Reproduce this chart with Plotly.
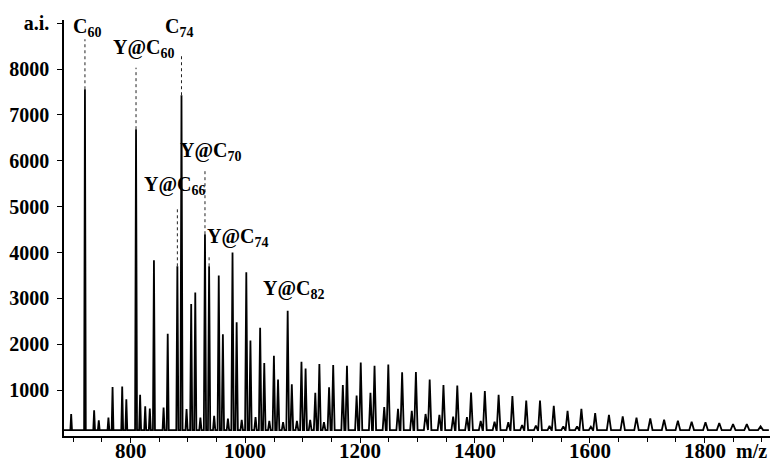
import plotly.graph_objects as go

# ---- data (m/z, intensity in a.i.) ----
peak_mz = [696.6, 720.6, 736.6, 744.7, 761.5, 768.7, 785.5, 792.7, 809.6, 816.7,
           825.6, 833.6, 840.8, 857.6, 864.8, 881.6, 888.8, 897.6, 905.7, 912.8,
           921.7, 929.7, 936.9, 945.7, 953.7, 960.9, 969.7, 977.7, 984.9, 993.7,
           1001.7, 1008.9, 1017.8, 1025.8, 1033.0, 1041.8, 1049.8, 1057.0, 1065.8, 1073.8,
           1081.0, 1089.9, 1097.8, 1105.0, 1113.0, 1121.9, 1129.0, 1137.0, 1145.9, 1153.1,
           1169.9, 1177.1, 1193.9, 1201.1, 1218.0, 1225.1, 1242.0, 1249.1, 1266.0, 1273.2,
           1290.0, 1297.2, 1314.0, 1321.2, 1338.1, 1345.2, 1362.1, 1369.3, 1386.1, 1393.3,
           1410.1, 1417.3, 1434.2, 1441.3, 1458.2, 1465.3, 1482.2, 1489.4, 1506.2, 1513.4,
           1530.0, 1537.4, 1554.0, 1561.4, 1578.0, 1585.5, 1602.0, 1609.5, 1633.5, 1657.5,
           1681.5, 1705.5, 1729.6, 1753.6, 1777.6, 1801.7, 1825.7, 1849.7, 1873.7, 1897.7]
peak_int = [480, 7560, 560, 340, 400, 1070, 1080, 800, 6690, 900,
            650, 600, 3830, 620, 2230, 3700, 7430, 590, 2880, 3130,
            400, 4400, 3700, 440, 3500, 2220, 380, 4000, 2480, 350,
            3570, 2080, 410, 2360, 1590, 330, 1750, 1230, 300, 2730,
            1130, 330, 1620, 1470, 350, 940, 1570, 300, 1060, 1550,
            1110, 1530, 880, 1600, 940, 1530, 630, 1560, 590, 1390,
            550, 1395, 480, 1230, 460, 1110, 420, 1100, 410, 950,
            330, 980, 310, 900, 300, 870, 240, 770, 225, 770,
            220, 660, 210, 550, 210, 590, 200, 500, 460, 430,
            400, 385, 355, 335, 310, 300, 285, 260, 260, 210]
# dotted tips above the solid part of the strongest peaks
tip_mz = [720.6, 809.6, 881.6, 888.8, 929.7, 936.9]
tip_int = [8650, 8030, 5000, 8290, 5780, 3930]
baseline = 130

label_text = ["C<sub>60</sub>", "C<sub>74</sub>", "Y@C<sub>60</sub>", "Y@C<sub>70</sub>",
              "Y@C<sub>66</sub>", "Y@C<sub>74</sub>", "Y@C<sub>82</sub>"]
label_mz = [723.3, 884.4, 822.6, 940.2, 877.5, 988.1, 1084.8]
label_int = [8900, 8900, 8440, 6200, 5460, 4320, 3190]

x_ticks = [800, 1000, 1200, 1400, 1600, 1800]
x_ticktext = ["800", "1000", "1200", "1400", "1600", "1800"]
y_ticks = [1000, 2000, 3000, 4000, 5000, 6000, 7000, 8000, 9000]
y_ticktext = ["1000", "2000", "3000", "4000", "5000", "6000", "7000", "8000", "a.i."]
x_range = [684.1, 1914.1]
y_range = [0, 9070]

# ---- build the line trace ----
order = sorted(range(len(peak_mz)), key=lambda i: peak_mz[i])
xs, ys = [x_range[0]], [baseline]
for k, i in enumerate(order):
    m = peak_mz[i]
    w = 1.4 + 0.0025 * (m - 700)
    if k > 0:
        w = min(w, (m - peak_mz[order[k - 1]]) / 2.2)
    if k < len(order) - 1:
        w = min(w, (peak_mz[order[k + 1]] - m) / 2.2)
    xs += [m - w, m, m + w]
    ys += [baseline, peak_int[i], baseline]
xs.append(x_range[1] - 2)
ys.append(baseline)

tx, ty = [], []
for m, t in zip(tip_mz, tip_int):
    j = peak_mz.index(m)
    tx += [m, m, None]
    ty += [peak_int[j], t, None]

FONT = "Liberation Serif"
fig = go.Figure()
fig.add_trace(go.Scatter(x=xs, y=ys, mode="lines",
                         line=dict(color="black", width=1.8), hoverinfo="skip",
                         showlegend=False, cliponaxis=False))
fig.add_trace(go.Scatter(x=tx, y=ty, mode="lines",
                         line=dict(color="#222", width=1, dash="dot"), hoverinfo="skip",
                         showlegend=False))

for t, m, v in zip(label_text, label_mz, label_int):
    fig.add_annotation(x=m, y=v, xref="x", yref="y", text=t, showarrow=False,
                       xanchor="center", yanchor="middle",
                       font=dict(family=FONT, size=20, color="black", weight="bold"))

# x tick labels drawn as text just under the axis
for v, t in zip(x_ticks, x_ticktext):
    fig.add_annotation(x=v, y=0, xref="x", yref="paper", text=t, showarrow=False,
                       xanchor="center", yanchor="middle", yshift=-15,
                       font=dict(family=FONT, size=21, color="black", weight="bold"))

fig.add_annotation(x=1882.7, y=0, xref="x", yref="paper", text="m/z", showarrow=False,
                   xanchor="center", yanchor="middle", yshift=-15,
                   font=dict(family=FONT, size=20, color="black", weight="bold"))

# the page body adds an 8px offset, so margins are shifted to compensate
fig.update_layout(
    width=780, height=464,
    margin=dict(l=56, r=18, t=12, b=36, autoexpand=False),
    paper_bgcolor="white", plot_bgcolor="white",
    showlegend=False,
)
fig.update_xaxes(range=x_range, tickvals=x_ticks, showticklabels=False,
                 automargin=False,
                 showgrid=False, zeroline=False, showline=True, linecolor="black", linewidth=1.5,
                 ticks="outside", ticklen=5, tickwidth=1, tickcolor="black",
                 minor=dict(dtick=50, tick0=0, ticks="outside", ticklen=4, tickcolor="black"))
fig.update_yaxes(range=y_range, tickvals=y_ticks, ticktext=y_ticktext,
                 automargin=False,
                 showgrid=False, zeroline=False, showline=True, linecolor="black", linewidth=1.5,
                 ticks="outside", ticklen=5, tickwidth=1, tickcolor="black",
                 ticklabelstandoff=4,
                 tickfont=dict(family=FONT, size=20, color="black", weight="bold"))

fig.write_html("out.html")
